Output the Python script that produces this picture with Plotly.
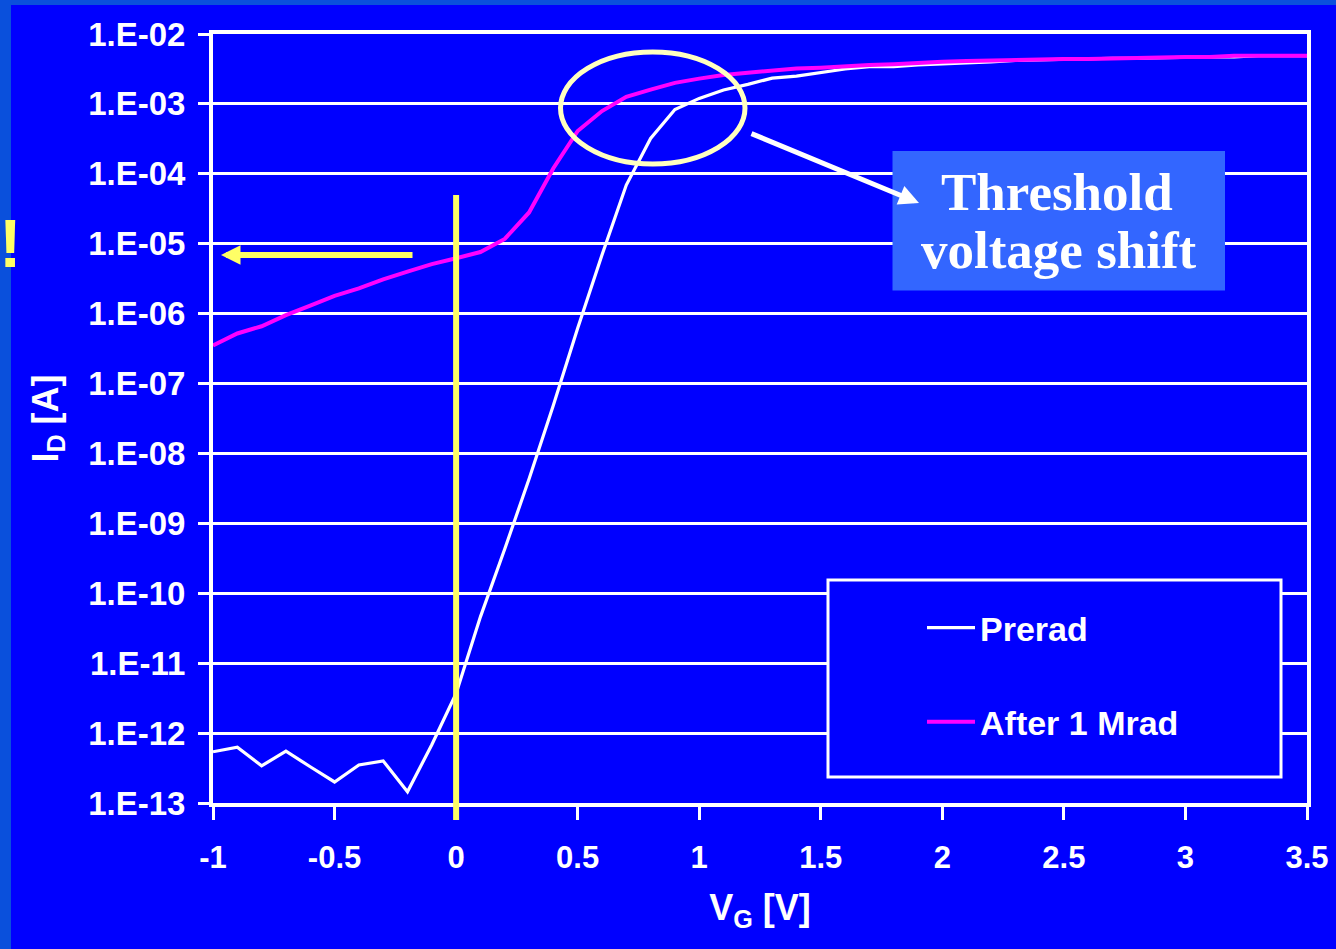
import plotly.graph_objects as go

# ---------------- data ----------------
vg = [-1.0, -0.9, -0.8, -0.7, -0.6, -0.5, -0.4, -0.3, -0.2, -0.1,
      0.0, 0.1, 0.2, 0.3, 0.4, 0.5, 0.6, 0.7, 0.8, 0.9,
      1.0, 1.1, 1.2, 1.3, 1.4, 1.5, 1.6, 1.7, 1.8, 1.9,
      2.0, 2.1, 2.2, 2.3, 2.4, 2.5, 2.6, 2.7, 2.8, 2.9,
      3.0, 3.1, 3.2, 3.3, 3.4, 3.5]

id_prerad = [5.4e-13, 6.3e-13, 3.4e-13, 5.5e-13, 3.3e-13, 2.0e-13, 3.5e-13, 4.0e-13, 1.45e-13, 6.8e-13,
             3.7e-12, 4.6e-11, 4.3e-10, 4.3e-09, 4.9e-08, 6.2e-07, 6.9e-06, 6.9e-05, 3.2e-04, 8.3e-04,
             1.2e-03, 1.58e-03, 1.9e-03, 2.34e-03, 2.5e-03, 2.8e-03, 3.16e-03, 3.4e-03, 3.4e-03, 3.6e-03,
             3.7e-03, 3.9e-03, 4.0e-03, 4.2e-03, 4.3e-03, 4.4e-03, 4.4e-03, 4.5e-03, 4.5e-03, 4.6e-03,
             4.6e-03, 4.7e-03, 4.7e-03, 4.9e-03, 4.9e-03, 4.9e-03]

id_1mrad = [3.5e-07, 5.2e-07, 6.6e-07, 9.5e-07, 1.3e-06, 1.8e-06, 2.3e-06, 3.1e-06, 4.0e-06, 5.1e-06,
            6.2e-06, 7.6e-06, 1.17e-05, 2.8e-05, 1.2e-04, 4.1e-04, 7.9e-04, 1.26e-03, 1.6e-03, 2.0e-03,
            2.3e-03, 2.6e-03, 2.8e-03, 3.0e-03, 3.2e-03, 3.3e-03, 3.5e-03, 3.6e-03, 3.7e-03, 3.9e-03,
            4.0e-03, 4.1e-03, 4.2e-03, 4.2e-03, 4.3e-03, 4.4e-03, 4.4e-03, 4.5e-03, 4.6e-03, 4.6e-03,
            4.7e-03, 4.7e-03, 4.9e-03, 4.9e-03, 4.9e-03, 4.9e-03]

series_names = ["Prerad", "After 1 Mrad"]

x_tickvals = [-1, -0.5, 0, 0.5, 1, 1.5, 2, 2.5, 3, 3.5]
x_ticktext = ["-1", "-0.5", "0", "0.5", "1", "1.5", "2", "2.5", "3", "3.5"]
y_tickvals = [1e-13, 1e-12, 1e-11, 1e-10, 1e-09, 1e-08, 1e-07, 1e-06, 1e-05, 1e-04, 1e-03, 1e-02]
y_ticktext = ["1.E-13", "1.E-12", "1.E-11", "1.E-10", "1.E-09", "1.E-08",
              "1.E-07", "1.E-06", "1.E-05", "1.E-04", "1.E-03", "1.E-02"]

x_title = "V<sub>G</sub> [V]"
y_title = "I<sub>D</sub> [A]"
callout_lines = ["Threshold", "voltage shift"]

# ---------------- layout helpers ----------------
W, H = 1336, 949
L, R, T, B = 213, 29, 34, 146
PW = W - L - R
PH = H - T - B


def px(xp):
    return (xp - L) / PW


def py(yp):
    return (H - B - yp) / PH


BLUE = "#0000FF"
YELLOW = "#FFFF66"
SANS = "Arial, Liberation Sans, sans-serif"
SERIF = "Times New Roman, Liberation Serif, serif"

fig = go.Figure()
fig.add_trace(go.Scatter(x=vg, y=id_prerad, mode="lines", name=series_names[0],
                         line=dict(color="white", width=3.2), legendgroup="a"))
fig.add_trace(go.Scatter(x=vg, y=id_1mrad, mode="lines", name=series_names[1],
                         line=dict(color="#FF00FF", width=4), legendgroup="b"))

fig.update_layout(
    width=W, height=H,
    margin=dict(l=L, r=R, t=T, b=B, autoexpand=False),
    paper_bgcolor=BLUE, plot_bgcolor=BLUE,
    font=dict(family=SANS, color="white"),
    showlegend=True,
    legend=dict(x=px(922), y=py(599), xanchor="left", yanchor="top",
                bgcolor="rgba(0,0,0,0)", borderwidth=0,
                font=dict(family=SANS, size=34, color="white", weight="bold"),
                tracegroupgap=47, itemwidth=48),
    xaxis=dict(range=[-1, 3.5], tickvals=x_tickvals, ticktext=x_ticktext,
               showgrid=False, zeroline=False, showline=True, mirror=True,
               linecolor="white", linewidth=4,
               ticks="outside", ticklen=13, tickwidth=3, tickcolor="white",
               tickfont=dict(family=SANS, size=31, color="white", weight="bold"),
               ticklabelstandoff=11,
               title=dict(text=x_title, standoff=22,
                          font=dict(family=SANS, size=36, color="white", weight="bold")),
               automargin=False),
    yaxis=dict(type="log", range=[-13, -2], tickvals=y_tickvals, ticktext=y_ticktext,
               showgrid=True, gridcolor="white", gridwidth=3, zeroline=False,
               showline=True, mirror=True, linecolor="white", linewidth=4,
               ticks="outside", ticklen=11, tickwidth=3, tickcolor="white",
               tickfont=dict(family=SANS, size=33, color="white", weight="bold"),
               ticklabelstandoff=6,
               title=dict(text=y_title, standoff=20,
                          font=dict(family=SANS, size=36, color="white", weight="bold")),
               automargin=False),
)

shapes = [
    # slide edge strips
    dict(type="rect", xref="paper", yref="paper", x0=px(0), x1=px(11), y0=py(H), y1=py(0),
         fillcolor="#0A50DC", line=dict(width=0), layer="below"),
    dict(type="rect", xref="paper", yref="paper", x0=px(0), x1=px(W), y0=py(5), y1=py(0),
         fillcolor="#0A50DC", line=dict(width=0), layer="below"),
    # yellow vertical marker at VG = 0
    dict(type="line", xref="x", yref="paper", x0=0, x1=0, y0=py(820), y1=py(195),
         line=dict(color=YELLOW, width=6), layer="above"),
    # ellipse highlighting the shift
    dict(type="circle", xref="paper", yref="paper", x0=px(560.5), x1=px(745), y0=py(164), y1=py(52),
         line=dict(color="#FFFFC0", width=5), layer="above"),
    # callout box
    dict(type="rect", xref="paper", yref="paper", x0=px(892.5), x1=px(1225), y0=py(290.5), y1=py(151),
         fillcolor="#3366FF", line=dict(width=0), layer="above"),
    # legend frame
    dict(type="rect", xref="paper", yref="paper", x0=px(828), x1=px(1281), y0=py(777), y1=py(580),
         fillcolor=BLUE, line=dict(color="white", width=3), layer="above"),
]
fig.update_layout(shapes=shapes)

annotations = [
    dict(xref="paper", yref="paper", x=px(1057), y=py(192), text=callout_lines[0], showarrow=False,
         xanchor="center", yanchor="middle",
         font=dict(family=SERIF, size=53, color="white", weight="bold")),
    dict(xref="paper", yref="paper", x=px(1059), y=py(250), text=callout_lines[1], showarrow=False,
         xanchor="center", yanchor="middle",
         font=dict(family=SERIF, size=53, color="white", weight="bold")),
    # white arrow from ellipse to callout
    dict(xref="paper", yref="paper", x=px(919), y=py(203), ax=-169, ay=-70, text="",
         showarrow=True, arrowhead=2, arrowsize=0.8, arrowwidth=5, arrowcolor="white", standoff=0),
    # yellow arrow pointing to the axis
    dict(xref="paper", yref="paper", x=px(221), y=py(255), ax=193, ay=0, text="",
         showarrow=True, arrowhead=2, arrowsize=0.65, arrowwidth=6, arrowcolor=YELLOW, standoff=0),
    # exclamation mark at slide edge
    dict(xref="paper", yref="paper", x=px(10), y=py(243), text="!", showarrow=False,
         xanchor="center", yanchor="middle",
         font=dict(family=SANS, size=68, color=YELLOW, weight="bold")),
]
fig.update_layout(annotations=annotations)

fig.write_html("out.html", config={"displayModeBar": False},
               post_script="document.body.style.margin='0px';document.body.style.overflow='hidden';")
